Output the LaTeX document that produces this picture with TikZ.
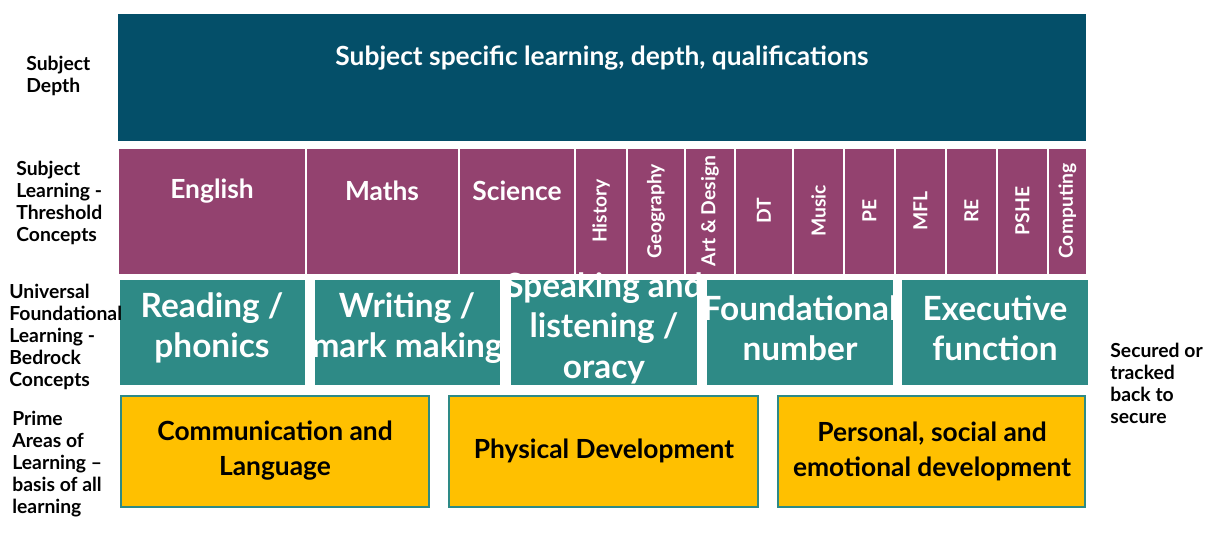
\documentclass[tikz,border=0pt]{standalone}
\usepackage{fontspec}
\setmainfont{Lato}
\usetikzlibrary{positioning}
\definecolor{depthblue}{HTML}{044F69}
\definecolor{subjpurple}{HTML}{93426F}
\definecolor{bedteal}{HTML}{2E8A86}
\definecolor{primeyellow}{HTML}{FFC000}
\tikzset{
  px/.style={x=0.02cm, y=-0.02cm},
  rowlabel/.style={anchor=north west, align=left, font=\fontsize{11}{12.5}\selectfont\bfseries, inner sep=0pt},
  subjbox/.style={fill=subjpurple, draw=white, line width=1.2pt},
  subjtext/.style={text=white, font=\fontsize{15}{17}\selectfont\bfseries},
  vtext/.style={text=white, rotate=90, font=\fontsize{11}{13}\selectfont\bfseries},
  bedbox/.style={fill=bedteal, draw=none},
  bedtext/.style={text=white, align=center, font=\fontsize{19}{23}\selectfont\bfseries},
  primebox/.style={fill=primeyellow, draw=bedteal, line width=0.8pt},
  primetext/.style={align=center, font=\fontsize{15}{20}\selectfont\bfseries}
}
\begin{document}
\begin{tikzpicture}[px]
    \useasboundingbox (0,0) rectangle (1211,535);
    % subject depth
    \fill[depthblue] (118,14) rectangle (1086,141);
    \node[text=white, font=\fontsize{15}{17}\selectfont\bfseries] (depth) at (602,58) {Subject specific learning, depth, qualifications};
    % threshold concepts
    \draw[subjbox] (118,148) rectangle (306,275);
    \node[subjtext] (english) at (212,191) {English};
    \draw[subjbox] (306,148) rectangle (459,275);
    \node[subjtext] (maths) at (382,191) {Maths};
    \draw[subjbox] (459,148) rectangle (575,275);
    \node[subjtext] (science) at (517,191) {Science};
    \foreach \xa/\xb/\name/\txt in {575/627/history/History, 627/685/geography/Geography,
        685/735/artdesign/Art \& Design, 735/793/dt/DT, 793/844/music/Music, 844/895/pe/PE,
        895/946/mfl/MFL, 946/997/re/RE, 997/1048/pshe/PSHE, 1048/1087/computing/Computing} {
        \draw[subjbox] (\xa,148) rectangle (\xb,275);
        \node[vtext] (\name) at ({(\xa+\xb)/2},211) {\txt};
    }
    % bedrock concepts
    \fill[bedteal] (120,280) rectangle (305,385);
    \node[bedtext] (reading) at (212,328) {Reading /\\phonics};
    \fill[bedteal] (315,280) rectangle (500,385);
    \node[bedtext] (writing) at (407,328) {Writing /\\mark making};
    \fill[bedteal] (511,280) rectangle (697,385);
    \node[bedtext] (speaking) at (604,328) {Speaking and\\listening /\\oracy};
    \fill[bedteal] (707,280) rectangle (893,385);
    \node[bedtext] (number) at (800,328) {Foundational\\number};
    \fill[bedteal] (902,280) rectangle (1088,385);
    \node[bedtext] (executive) at (995,328) {Executive\\function};
    % prime areas
    \draw[primebox] (121,396) rectangle (429,507);
    \node[primetext] (communication) at (275,451) {Communication and\\Language};
    \draw[primebox] (449,396) rectangle (758,507);
    \node[primetext] (physical) at (604,451) {Physical Development};
    \draw[primebox] (778,396) rectangle (1085,507);
    \node[primetext] (personal) at (932,451) {Personal, social and\\emotional development};
    % row labels
    \node[rowlabel] (lbldepth) at (26,56) {Subject\\Depth};
    \node[rowlabel] (lblthreshold) at (16,161) {Subject\\Learning -\\Threshold\\Concepts};
    \node[rowlabel] (lblbedrock) at (9,284) {Universal\\Foundational\\Learning -\\Bedrock\\Concepts};
    \node[rowlabel] (lblprime) at (12,411) {Prime\\Areas of\\Learning --\\basis of all\\learning};
    \node[rowlabel] (lblsecured) at (1110,343) {Secured or\\tracked\\back to\\secure};
\end{tikzpicture}
\end{document}
